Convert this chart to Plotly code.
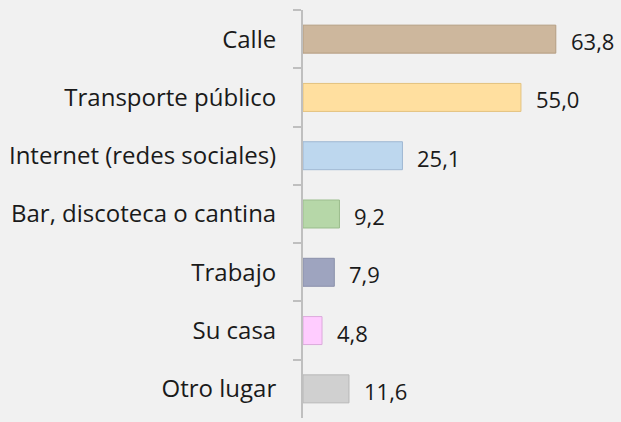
import plotly.graph_objects as go

# Lugar donde ocurrió el acoso (%)
categorias = ["Calle", "Transporte público", "Internet (redes sociales)",
              "Bar, discoteca o cantina", "Trabajo", "Su casa", "Otro lugar"]
valores = [63.8, 55.0, 25.1, 9.2, 7.9, 4.8, 11.6]
colores = ["#cdb79d", "#ffdf9f", "#bdd7ee", "#b6d7a8", "#9ea4bf", "#ffccff", "#d0d0d0"]
bordes = ["#b49d82", "#e3c27f", "#9fb8d3", "#9bbd8d", "#8a90ab", "#dcaadc", "#b8b8b8"]

FONT = "Open Sans"

fig = go.Figure(go.Bar(
    x=valores,
    y=categorias,
    orientation="h",
    marker=dict(color=colores, line=dict(color=bordes, width=1)),
    hoverinfo="skip",
))

for cat, val in zip(categorias, valores):
    fig.add_annotation(
        x=val, y=cat, text=f"{val:.1f}".replace(".", ","),
        xanchor="left", yanchor="middle", xshift=13, yshift=-2, showarrow=False,
        font=dict(family=FONT, size=22, color="#1a1a1a"),
    )

fig.update_layout(
    width=621, height=422,
    margin=dict(l=303, r=1, t=10, b=4),
    paper_bgcolor="#f1f1f1",
    plot_bgcolor="#f1f1f1",
    bargap=0.52,
    showlegend=False,
    separators=",.",
)
fig.update_xaxes(range=[0, 80], visible=False, fixedrange=True)
fig.update_yaxes(
    autorange="reversed",
    showline=True, linecolor="#bfbfbf", linewidth=2,
    ticks="outside", tickson="boundaries", ticklen=8,
    tickcolor="#bfbfbf", tickwidth=2,
    ticklabelstandoff=20,
    tickfont=dict(family=FONT, size=24, color="#1a1a1a"),
    showgrid=False,
)

fig.write_html("out.html")
